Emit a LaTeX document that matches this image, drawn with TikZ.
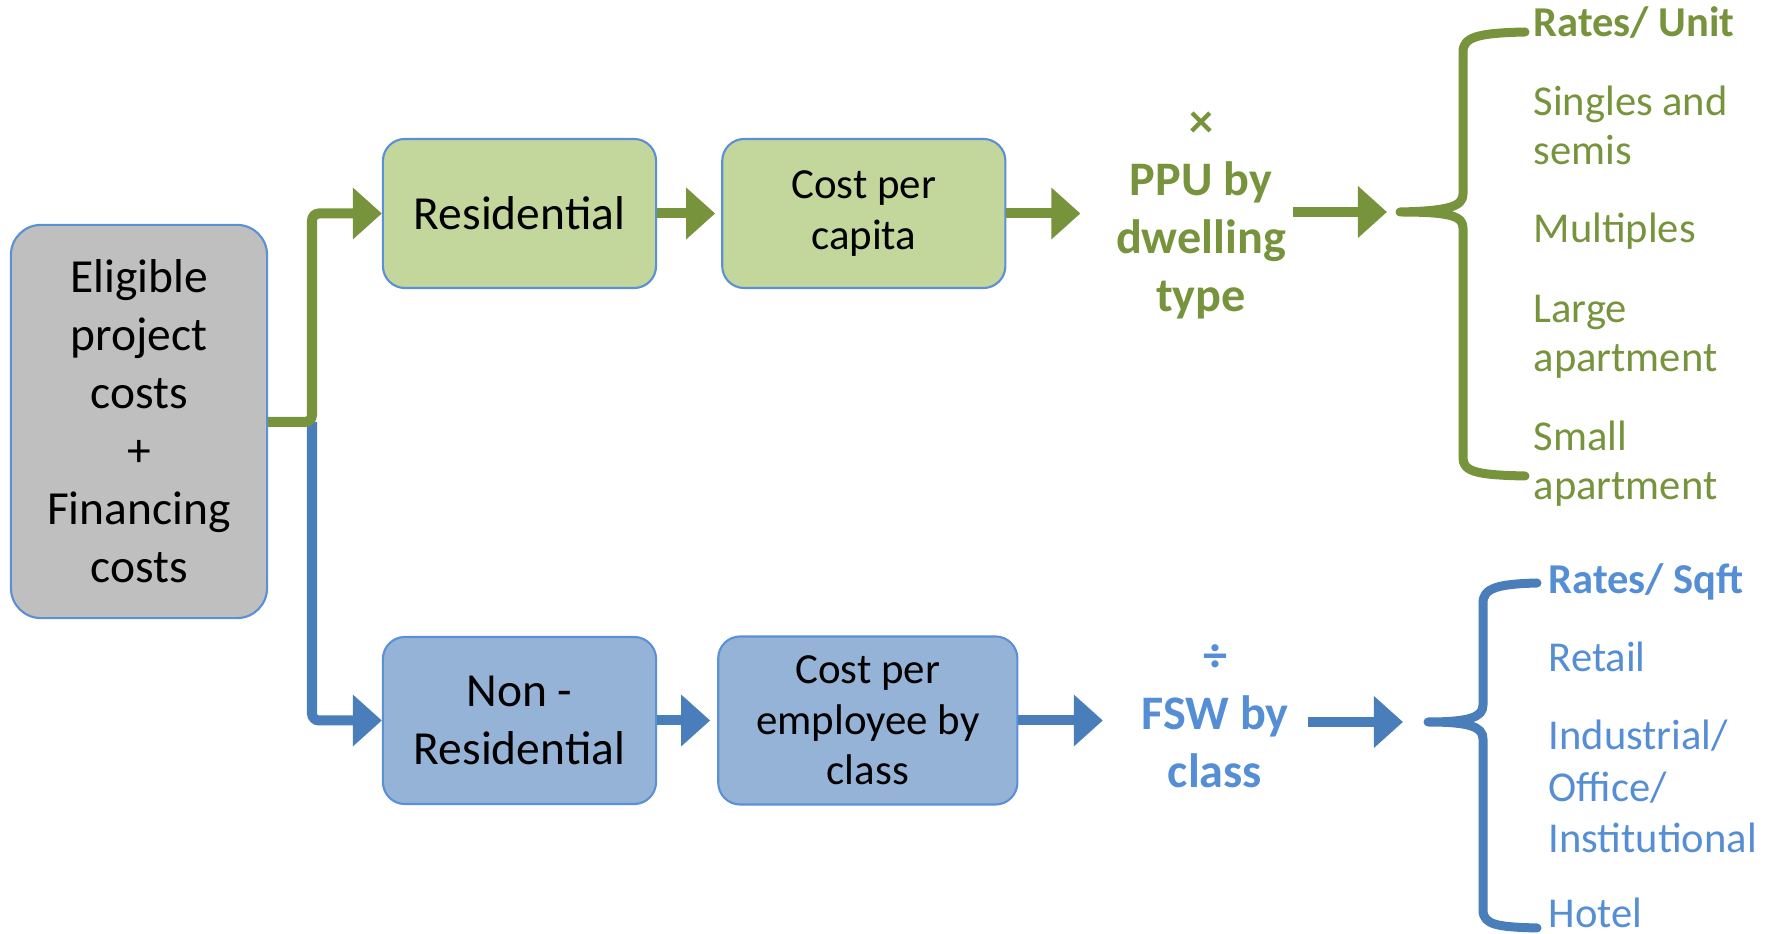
\documentclass[tikz,border=0pt]{standalone}
\usepackage{fontspec}
\setmainfont{Carlito}
\usetikzlibrary{arrows.meta, positioning}
\definecolor{grn}{RGB}{119,147,60}
\definecolor{grnfill}{RGB}{195,214,155}
\definecolor{blu}{RGB}{74,126,187}
\definecolor{blufill}{RGB}{149,179,215}
\definecolor{blutext}{RGB}{85,142,213}
\definecolor{edge}{RGB}{91,143,214}
\definecolor{grayfill}{RGB}{191,191,191}
\tikzset{
  box/.style={rectangle, draw=edge, rounded corners=0.22cm, line width=0.6pt,
              align=center, inner sep=0pt},
  gbox/.style={box, fill=grnfill},
  bbox/.style={box, fill=blufill},
  garrow/.style={draw=grn, line width=0.1cm, -{Triangle[length=0.29cm, width=0.5cm]}},
  barrow/.style={draw=blu, line width=0.1cm, -{Triangle[length=0.29cm, width=0.5cm]}},
  gbrace/.style={draw=grn, line width=0.09cm, line cap=round, line join=round},
  bbrace/.style={draw=blu, line width=0.09cm, line cap=round, line join=round},
  gitem/.style={text=grn, font=\fontsize{12.1}{14.2}\selectfont, align=left,
                inner sep=0pt, anchor=base west},
  bitem/.style={text=blutext, font=\fontsize{12.1}{14.7}\selectfont, align=left,
                inner sep=0pt, anchor=base west},
}
\begin{document}
\begin{tikzpicture}[x=0.01cm, y=-0.01cm,
  big/.style={font=\fontsize{13.5}{16.5}\selectfont},
  mid/.style={font=\fontsize{12.2}{14.4}\selectfont},
  op/.style={font=\bfseries\fontsize{13.7}{16.5}\selectfont, align=center,
             inner sep=0pt, anchor=base},
]
  \useasboundingbox (0,0) rectangle (1775,934);

  \node[box, big, fill=grayfill, rounded corners=0.3cm, minimum width=2.56cm,
        minimum height=3.93cm] (elig) at (139,421.5)
    {Eligible\\project\\costs\\+\\Financing\\costs};
  \node[gbox, big, minimum width=2.73cm, minimum height=1.49cm] (res) at (519.5,213.5) {Residential};
  \node[gbox, mid, minimum width=2.83cm, minimum height=1.49cm, right=0.64cm of res] (cpc) {Cost per\\capita};
  \node[bbox, big, minimum width=2.73cm, minimum height=1.67cm] (nonres) at (519.5,720.5) {Non -\\Residential};
  \node[bbox, mid, minimum width=2.99cm, minimum height=1.68cm, right=0.60cm of nonres] (cpe) {Cost per\\employee by\\class};

  % base anchor sits on the last line
  \node[op, text=grn] (ppu) at (1201,312) {×\\PPU by\\dwelling\\type};
  \node[op, text=blutext] (fsw) at (1215,788) {÷\\FSW by\\class};

  \coordinate (split) at (312,422);
  \coordinate (gtip) at (1400,212);
  \coordinate (btip) at (1428,722);

  % split into the two branches
  \draw[barrow, rounded corners=2pt] (split) |- (nonres.west);
  \draw[garrow, rounded corners=2pt] (elig.east |- split) -- (split) |- (res.west);

  \draw[garrow, shorten >=0.06cm] (res) -- (cpc);
  \draw[garrow, shorten >=0.35cm] (cpc.east) -- (cpc.east -| ppu.west);
  \draw[garrow, shorten <=0.06cm, shorten >=0.13cm] (ppu.east |- gtip) -- (gtip);

  \draw[barrow, shorten >=0.07cm] (nonres) -- (cpe);
  \draw[barrow, shorten >=0.38cm] (cpe.east) -- (cpe.east -| fsw.west);
  \draw[barrow, shorten <=0.19cm, shorten >=0.25cm] (fsw.east |- btip) -- (btip);

  % braces
  \draw[gbrace] (1525,32) .. controls (1478,33) and (1463,37) .. (1463,52) -- (1463,194)
    .. controls (1463,206) and (1450,211) .. (gtip)
    .. controls (1450,212) and (1463,216) .. (1463,228) -- (1463,458)
    .. controls (1463,472) and (1478,475) .. (1525,476);
  \draw[bbrace] (1537,583) .. controls (1498,584) and (1483,588) .. (1483,603) -- (1483,705)
    .. controls (1483,717) and (1470,722) .. (btip)
    .. controls (1470,722) and (1483,727) .. (1483,739) -- (1483,910)
    .. controls (1483,925) and (1498,927) .. (1537,928);

  \node[gitem] (unit) at (1533,37) {\textbf{Rates/ Unit}};
  \node[gitem] (singles) at (1533,165) {Singles and\\semis};
  \node[gitem] (multi) at (1533,243) {Multiples};
  \node[gitem] (large) at (1533,372) {Large\\apartment};
  \node[gitem] (smallapt) at (1533,500) {Small\\apartment};

  \node[bitem] (sqft) at (1548,594) {\textbf{Rates/ Sqft}};
  \node[bitem] (retail) at (1548,672) {Retail};
  \node[bitem] (ind) at (1548,853) {Industrial/\\Office/\\Institutional};
  \node[bitem] (hotel) at (1548,928) {Hotel};
\end{tikzpicture}
\end{document}
